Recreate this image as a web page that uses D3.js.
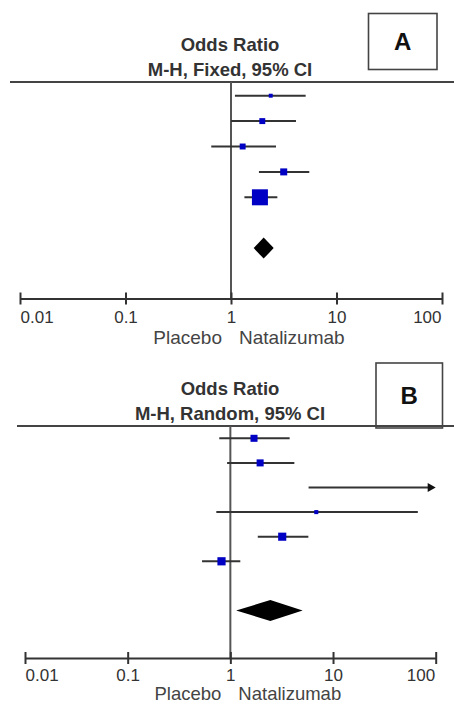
<!DOCTYPE html>
<html>
<head>
<meta charset="utf-8">
<script src="https://cdn.jsdelivr.net/npm/d3@7"></script>
<style>
  html, body { margin: 0; padding: 0; background: #fff; }
  svg { display: block; font-family: "Liberation Sans", Arial, sans-serif; }
</style>
</head>
<body>
<div id="chart"></div>
<script>
// axis
const tickVals = [0.01, 0.1, 1, 10, 100];
const tickLabels = ["0.01", "0.1", "1", "10", "100"];
const favourLeft = "Placebo";
const favourRight = "Natalizumab";

// panel A - fixed effect
const titleA = ["Odds Ratio", "M-H, Fixed, 95% CI"];
const letterA = "A";
const orA = [2.38, 1.98, 1.29, 3.16, 1.88];
const loA = [1.09, 1.00, 0.65, 1.84, 1.34];
const hiA = [5.10, 4.13, 2.67, 5.52, 2.75];
const weightA = [4, 9, 9, 12.5, 65.5];
const totalA = [2.04, 1.64, 2.54]; // estimate, lower, upper

// panel B - random effects
const titleB = ["Odds Ratio", "M-H, Random, 95% CI"];
const letterB = "B";
const orB = [1.70, 1.95, 120, 6.87, 3.20, 0.82];
const loB = [0.78, 0.93, 5.78, 0.73, 1.85, 0.53];
const hiB = [3.78, 4.20, 2500, 67, 5.75, 1.25];
const weightB = [19.5, 19.5, 2, 6.5, 26, 26.5];
const totalB = [2.45, 1.14, 5.06];

const W = 454, H = 704;
const svg = d3.select("#chart").append("svg")
    .attr("width", W)
    .attr("height", H);

function drawPanel(p) {
    const g = svg.append("g");
    const x = d3.scaleLog().domain([0.01, 100]).range(p.xRange);
    const y = d3.scaleLinear().domain([0, 1]).range([p.firstRow, p.firstRow + p.rowStep]);
    const box = d3.scaleSqrt().domain([0, d3.max(p.weight)]).range([0, p.maxBox]);
    const [xmin, xmax] = x.range();

    // title
    g.append("text")
        .attr("x", 230).attr("y", p.titleY)
        .attr("text-anchor", "middle")
        .attr("font-size", 18.5).attr("font-weight", "bold")
        .attr("fill", "#333")
        .text(p.title[0]);
    g.append("text")
        .attr("x", 230).attr("y", p.titleY + 24.5)
        .attr("text-anchor", "middle")
        .attr("font-size", 18.5).attr("font-weight", "bold")
        .attr("fill", "#333")
        .text(p.title[1]);

    // letter box
    g.append("rect")
        .attr("x", p.letterBox[0]).attr("y", p.letterBox[1])
        .attr("width", p.letterBox[2]).attr("height", p.letterBox[3])
        .attr("fill", "#fff").attr("stroke", "#444").attr("stroke-width", 1.6);
    g.append("text")
        .attr("x", p.letterBox[0] + p.letterBox[2] / 2)
        .attr("y", p.letterBox[1] + p.letterBox[3] / 2 + 8.5)
        .attr("text-anchor", "middle")
        .attr("font-size", 24).attr("font-weight", "bold")
        .attr("fill", "#111")
        .text(p.letter);

    // header rule
    g.append("line")
        .attr("x1", p.ruleX).attr("x2", W)
        .attr("y1", p.ruleY).attr("y2", p.ruleY)
        .attr("stroke", "#444").attr("stroke-width", 2);

    // line of no effect
    g.append("line")
        .attr("x1", x(1)).attr("x2", x(1))
        .attr("y1", p.ruleY).attr("y2", p.axisY)
        .attr("stroke", "#555").attr("stroke-width", 2);

    // axis
    const axis = d3.axisBottom(x)
        .tickValues(tickVals)
        .tickFormat((d, i) => tickLabels[i])
        .tickSizeOuter(0);
    const ax = g.append("g")
        .attr("transform", "translate(0," + p.axisY + ")")
        .call(axis);
    ax.select(".domain").attr("stroke", "#333").attr("stroke-width", 2);
    ax.selectAll(".tick line")
        .attr("y1", -6).attr("y2", 6)
        .attr("stroke", "#333").attr("stroke-width", 2);
    ax.selectAll(".tick text")
        .attr("y", p.tickDy).attr("dy", 0)
        .attr("font-size", 17)
        .attr("font-family", "Liberation Sans, Arial, sans-serif")
        .attr("fill", "#333")
        .attr("text-anchor", (d, i) => i === 0 ? "start" : (i === tickVals.length - 1 ? "end" : "middle"))
        .attr("dx", (d, i) => i === tickVals.length - 1 ? -1 : 0);

    g.append("text")
        .attr("x", x(1) - 9).attr("y", p.axisY + p.favourDy)
        .attr("text-anchor", "end")
        .attr("font-size", p.favourSize).attr("fill", "#444")
        .text(favourLeft);
    g.append("text")
        .attr("x", x(1) + 8).attr("y", p.axisY + p.favourDy)
        .attr("text-anchor", "start")
        .attr("font-size", p.favourSize).attr("fill", "#444")
        .text(favourRight);

    // studies
    const rows = p.or.map((d, i) => ({ or: d, lo: p.lo[i], hi: p.hi[i], w: p.weight[i], i: i }));
    const clampX = v => Math.max(xmin, Math.min(xmax, x(v)));

    g.selectAll(".ci").data(rows).enter().append("line")
        .attr("x1", d => clampX(d.lo))
        .attr("x2", d => d.hi > 100 ? xmax - 6 : clampX(d.hi))
        .attr("y1", d => y(d.i)).attr("y2", d => y(d.i))
        .attr("stroke", "#333").attr("stroke-width", 2);

    g.selectAll(".arrow").data(rows.filter(d => d.hi > 100)).enter().append("path")
        .attr("d", d => {
            const yy = y(d.i);
            return "M" + (xmax - 8) + "," + (yy - 4.5) + "L" + xmax + "," + yy + "L" + (xmax - 8) + "," + (yy + 4.5) + "Z";
        })
        .attr("fill", "#111");

    g.selectAll(".box").data(rows.filter(d => d.or >= 0.01 && d.or <= 100)).enter().append("rect")
        .attr("x", d => x(d.or) - box(d.w) / 2)
        .attr("y", d => y(d.i) - box(d.w) / 2)
        .attr("width", d => box(d.w))
        .attr("height", d => box(d.w))
        .attr("fill", "#0000c4");

    // pooled diamond
    const ty = y(p.totalRow);
    g.append("path")
        .attr("d", "M" + x(p.total[1]) + "," + ty +
            "L" + x(p.total[0]) + "," + (ty - 10.5) +
            "L" + x(p.total[2]) + "," + ty +
            "L" + x(p.total[0]) + "," + (ty + 10.5) + "Z")
        .attr("fill", "#000");
}

drawPanel({
    title: titleA, letter: letterA,
    or: orA, lo: loA, hi: hiA, weight: weightA, total: totalA,
    xRange: [20, 442], axisY: 298.5, tickDy: 24, favourDy: 45.5, favourSize: 19,
    titleY: 51, ruleX: 10, ruleY: 82,
    letterBox: [368.5, 13.5, 68.5, 56],
    firstRow: 95.7, rowStep: 25.4, totalRow: 6, maxBox: 16
});

drawPanel({
    title: titleB, letter: letterB,
    or: orB, lo: loB, hi: hiB, weight: weightB, total: totalB,
    xRange: [25, 435.7], axisY: 658, tickDy: 22.5, favourDy: 42, favourSize: 18.5,
    titleY: 395, ruleX: 17, ruleY: 426,
    letterBox: [376, 363, 66.5, 65],
    firstRow: 438.3, rowStep: 24.6, totalRow: 7, maxBox: 8.2
});
</script>
</body>
</html>
